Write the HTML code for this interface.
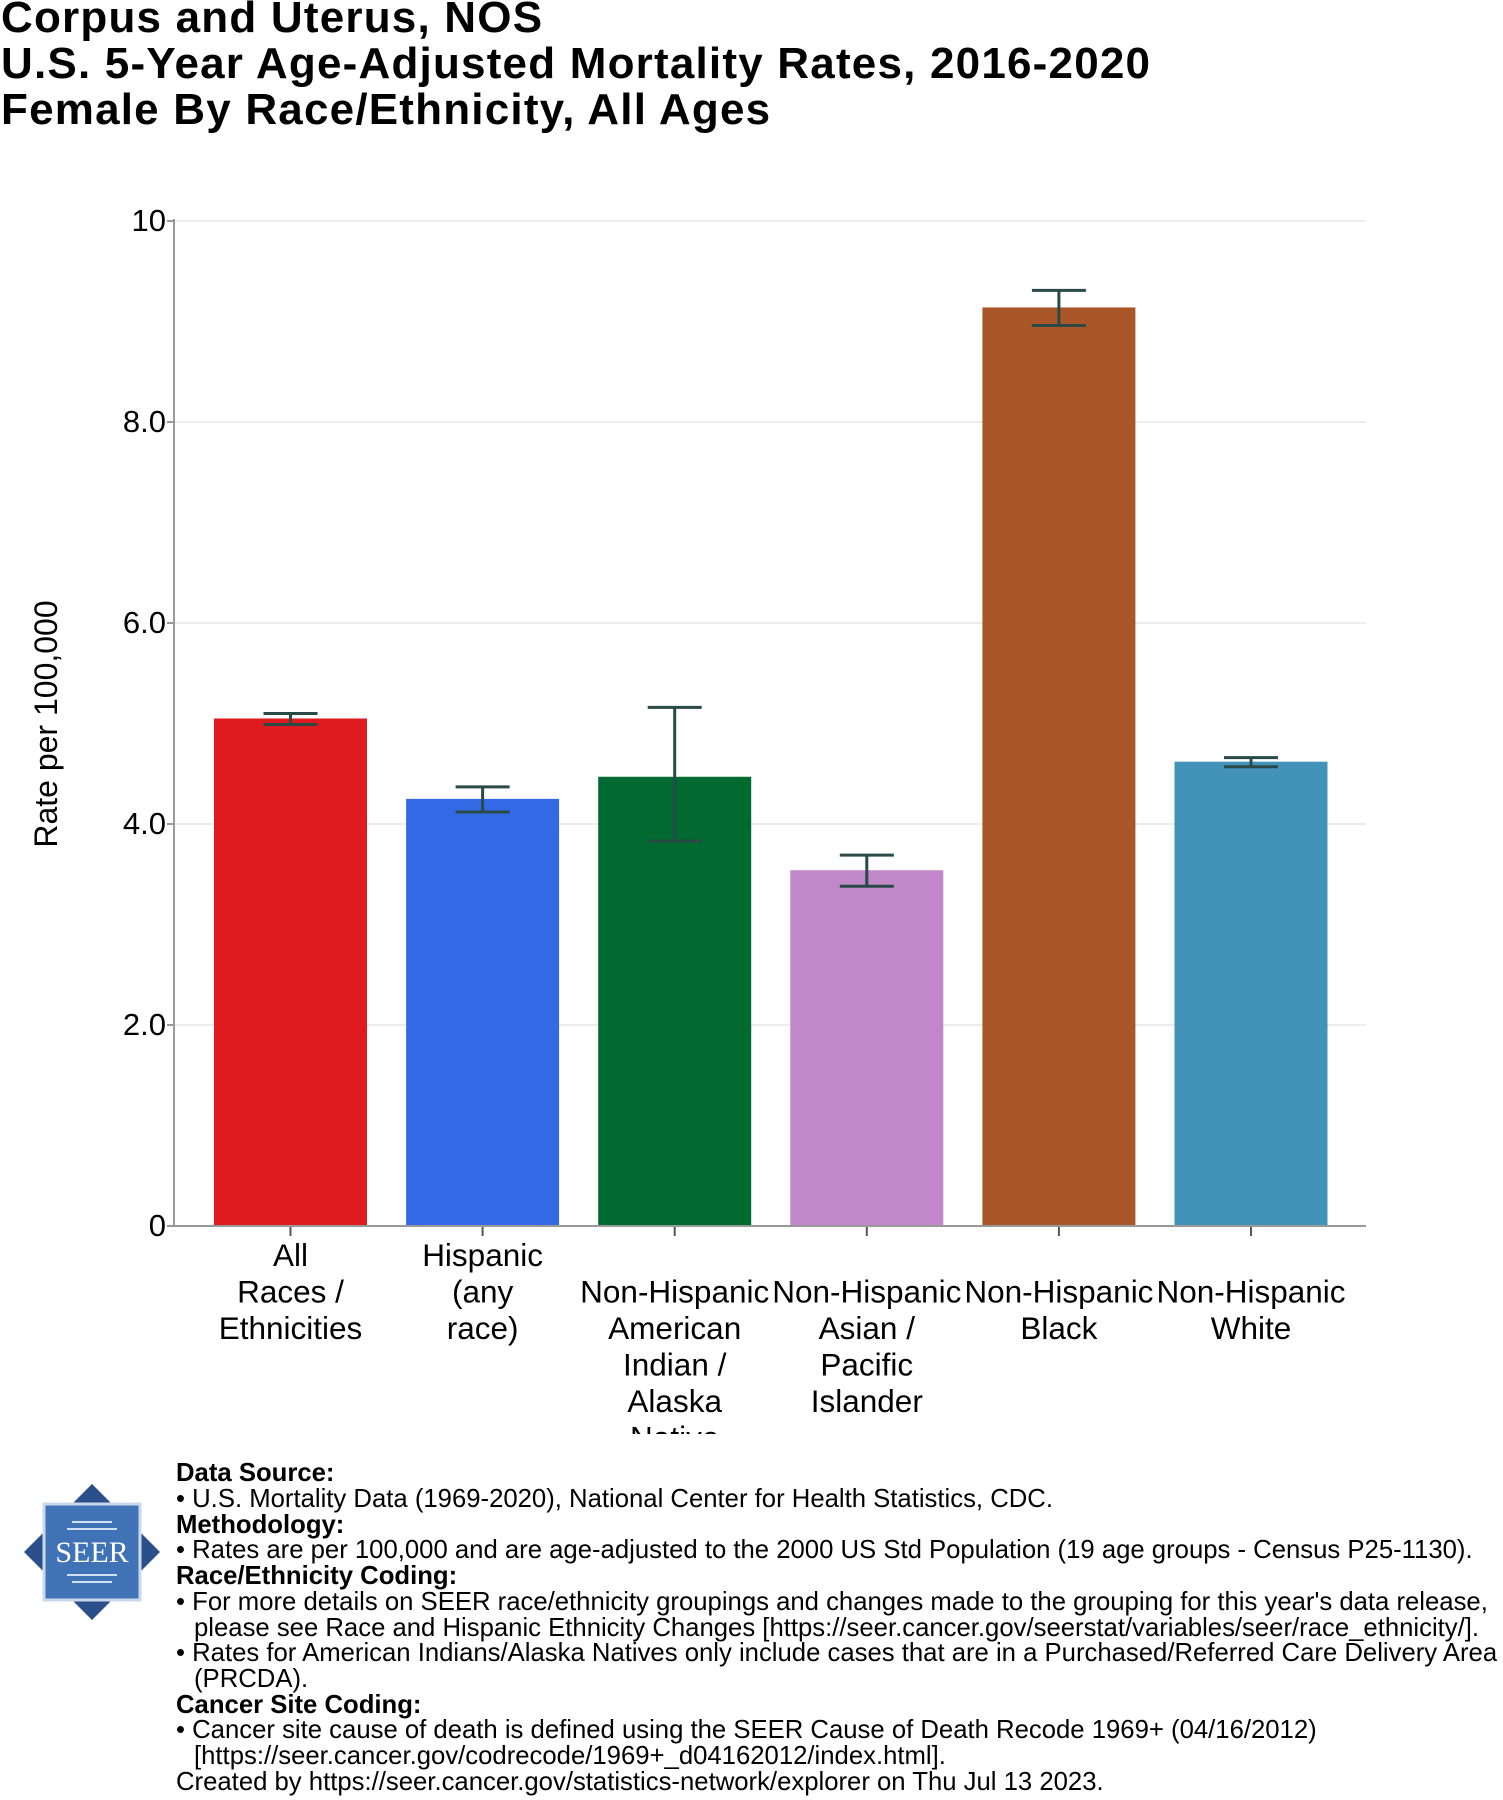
<!DOCTYPE html>
<html><head><meta charset="utf-8"><style>
body{margin:0;background:#fff;width:1503px;height:1800px;overflow:hidden;font-family:"Liberation Sans",Arial,sans-serif}
.t{position:absolute;left:1px;font-weight:bold;font-size:44px;letter-spacing:1.2px;color:#000;white-space:nowrap}
.f{position:absolute;left:176px;font-size:25.7px;white-space:nowrap;color:#000}
.f b{font-weight:bold}
.i{left:194px}
</style></head><body>
<div class="t" style="top:-7px">Corpus and Uterus, NOS</div>
<div class="t" style="top:39px">U.S. 5-Year Age-Adjusted Mortality Rates, 2016-2020</div>
<div class="t" style="top:85px">Female By Race/Ethnicity, All Ages</div>
<svg id="chart" width="1503" height="1440" style="position:absolute;left:0;top:0">
<defs><clipPath id="cp"><rect x="0" y="0" width="1503" height="1434"/></clipPath></defs>
</svg>
<svg width="140" height="140" style="position:absolute;left:22px;top:1482px">
<polygon points="70,2 138,70 70,138 2,70" fill="#2a4f8a"/>
<rect x="22" y="22" width="96" height="96" fill="#3f73b5" stroke="#c9d8ea" stroke-width="3"/>
<g stroke="#cfe0f2" stroke-width="2"><line x1="50" y1="40" x2="90" y2="40"/><line x1="45" y1="47" x2="95" y2="47"/><line x1="45" y1="93" x2="95" y2="93"/><line x1="50" y1="100" x2="90" y2="100"/></g>
<text x="70" y="80" text-anchor="middle" font-family="Liberation Serif,serif" font-size="30" fill="#fff">SEER</text>
</svg>
<div class="f" style="top:1459px"><b>Data Source:</b></div>
<div class="f" style="top:1485px">• U.S. Mortality Data (1969-2020), National Center for Health Statistics, CDC.</div>
<div class="f" style="top:1511px"><b>Methodology:</b></div>
<div class="f" style="top:1536px">• Rates are per 100,000 and are age-adjusted to the 2000 US Std Population (19 age groups - Census P25-1130).</div>
<div class="f" style="top:1562px"><b>Race/Ethnicity Coding:</b></div>
<div class="f" style="top:1588px">• For more details on SEER race/ethnicity groupings and changes made to the grouping for this year's data release,</div>
<div class="f i" style="top:1614px">please see Race and Hispanic Ethnicity Changes [https://seer.cancer.gov/seerstat/variables/seer/race_ethnicity/].</div>
<div class="f" style="top:1639px">• Rates for American Indians/Alaska Natives only include cases that are in a Purchased/Referred Care Delivery Area</div>
<div class="f i" style="top:1665px">(PRCDA).</div>
<div class="f" style="top:1691px"><b>Cancer Site Coding:</b></div>
<div class="f" style="top:1716px">• Cancer site cause of death is defined using the SEER Cause of Death Recode 1969+ (04/16/2012)</div>
<div class="f i" style="top:1742px">[https://seer.cancer.gov/codrecode/1969+_d04162012/index.html].</div>
<div class="f" style="top:1768px">Created by https://seer.cancer.gov/statistics-network/explorer on Thu Jul 13 2023.</div>
<script>
const categories=[["All","Races /","Ethnicities"],["Hispanic","(any","race)"],["Non-Hispanic","American","Indian /","Alaska","Native"],["Non-Hispanic","Asian /","Pacific","Islander"],["Non-Hispanic","Black"],["Non-Hispanic","White"]];
const labelOffset=[0,0,1,1,1,1];
const rates=[5.05,4.25,4.47,3.54,9.14,4.62];
const lowerCI=[4.99,4.12,3.83,3.38,8.96,4.57];
const upperCI=[5.10,4.37,5.16,3.69,9.31,4.66];
const colors=["#e01b1f","#3469e6","#006a30","#c088c8","#a95728","#4393b8"];
const yTicks=[0,2,4,6,8,10];
const yTickLabels=["0","2.0","4.0","6.0","8.0","10"];
const NS="http://www.w3.org/2000/svg";
const svg=document.getElementById("chart");
const x0=174,x1=1366,y0=1226,yTop=221,yMax=10;
const y=v=>y0-(v/yMax)*(y0-yTop);
const band=192.1,first=290.5,bw=153;
const xc=i=>first+i*band;
function mk(t,a,p){const e=document.createElementNS(NS,t);for(const k in a)e.setAttribute(k,a[k]);(p||svg).appendChild(e);return e;}
yTicks.forEach((v,i)=>{
 if(v>0){const g=mk("line",{x1:x0,x2:x1,y1:y(v),y2:y(v),stroke:"#ececec","stroke-width":2});
 
 }
 const tk=mk("line",{x1:x0-7,x2:x0,y1:y(v),y2:y(v),stroke:"#999","stroke-width":2});
 
 
 const t=mk("text",{x:x0-8,y:y(v)+10,"text-anchor":"end","font-size":31,fill:"#000"});
 t.textContent=yTickLabels[i];
 
 
});
const ax=mk("line",{x1:x0,x2:x0,y1:yTop-2,y2:y0,stroke:"#999","stroke-width":2});


const yt=mk("text",{x:0,y:0,transform:"translate(57,724) rotate(-90)","text-anchor":"middle","font-size":32,fill:"#000"});
yt.textContent="Rate per 100,000";


const lg=mk("g",{"clip-path":"url(#cp)"});
rates.forEach((v,i)=>{
 const cx=xc(i);
 const r=mk("rect",{x:cx-bw/2,y:y(v),width:bw,height:y0-y(v),fill:colors[i]});
 
 
 const e=mk("path",{d:`M${cx-27},${y(upperCI[i])}H${cx+27}M${cx},${y(upperCI[i])}V${y(lowerCI[i])}M${cx-27},${y(lowerCI[i])}H${cx+27}`,stroke:"#2a4a48","stroke-width":3,fill:"none"});
 
 
 const tk=mk("line",{x1:cx,x2:cx,y1:y0,y2:y0+10,stroke:"#555","stroke-width":2});
 
 
 categories[i].forEach((s,j)=>{
  const t=mk("text",{x:cx,y:1266+(j+labelOffset[i])*36.5,"text-anchor":"middle","font-size":31.5,fill:"#000"},lg);
  t.textContent=s;
  
  
 });
});
const xa=mk("line",{x1:x0,x2:x1,y1:y0,y2:y0,stroke:"#999","stroke-width":2});


</script>
</body></html>
